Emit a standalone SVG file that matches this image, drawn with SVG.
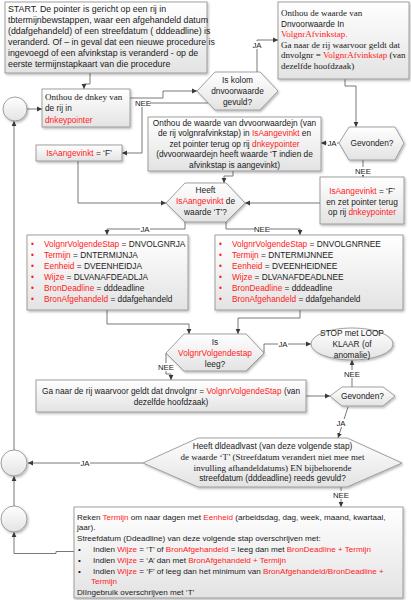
<svg xmlns="http://www.w3.org/2000/svg" width="411" height="600" viewBox="0 0 411 600">
<defs>
<linearGradient id="g" x1="0" y1="0" x2="0" y2="1"><stop offset="0" stop-color="#ffffff"/><stop offset="1" stop-color="#e3e3e3"/></linearGradient>
<filter id="sh" x="-10%" y="-10%" width="125%" height="130%"><feDropShadow dx="1.2" dy="1.5" stdDeviation="0.9" flood-color="#000" flood-opacity="0.28"/></filter>
<marker id="arr" markerWidth="6" markerHeight="6" refX="5" refY="3" orient="auto" markerUnits="userSpaceOnUse"><path d="M0,0.6 L5,3 L0,5.4 z" fill="#3a3a3a"/></marker>
<style>
.n{fill:url(#g);stroke:#8a8a8a;stroke-width:0.8;filter:url(#sh)}
.t{font-family:'Liberation Sans',Arial,sans-serif;font-size:8.3px;fill:#1a1a1a}
.s{font-family:'Liberation Serif','Times New Roman',serif;font-size:9px;fill:#1a1a1a}
.r{fill:#ff1a1a}
.m{text-anchor:middle}
.c{fill:none;stroke:#6a6a6a;stroke-width:0.9;marker-end:url(#arr)}
.l{font-family:'Liberation Sans',Arial,sans-serif;font-size:7.8px;fill:#1a1a1a;text-anchor:middle}
.lb{fill:#ffffff}
.st{font-size:8.8px}
</style>
</defs>
<rect width="411" height="600" fill="#ffffff"/>

<g id="connectors">
<path class="c" d="M90,73 V84 H84 V89"/>
<path class="c" d="M130,98 H163 V91 H197"/>
<path class="c" d="M257,72 V40 H278"/>
<path class="c" d="M208,103 H142 V153 H122"/>
<path class="c" d="M345,79 V86 H356 V127"/>
<path class="c" d="M339,143 H321"/>
<path class="c" d="M363,160 V177"/>
<path class="c" d="M233,171 V176 H224 V183"/>
<path class="c" d="M78,161 V203 H166"/>
<path class="c" d="M320,203 H245"/>
<path class="c" d="M185,222 V229 H107 V235"/>
<path class="c" d="M226,222 V229 H300 V235"/>
<path class="c" d="M107,310 V324 H189 V334"/>
<path class="c" d="M300,310 V318 H238 V334"/>
<path class="c" d="M264,353 V344 H311"/>
<path class="c" d="M166,353 V374 H171 V380"/>
<path class="c" d="M306,396 H330"/>
<path class="c" d="M352,387 V360"/>
<path class="c" d="M348,407 L338,438"/>
<path class="c" d="M143,463 H28"/>
<path class="c" d="M341,487 V507"/>
<path class="c" d="M74,551.5 H56 V553.5 H14 V532"/>
<path class="c" d="M14,506 V476"/>
<path class="c" d="M14,450 V121"/>
<path class="c" d="M27,109 H42"/>
<g id="labels">
<rect class="lb" x="252" y="41" width="10" height="8"/><text class="l" x="257" y="48">JA</text>
<rect class="lb" x="136" y="99" width="14" height="8"/><text class="l" x="143" y="106">NEE</text>
<rect class="lb" x="327" y="139" width="10" height="8"/><text class="l" x="332" y="146">JA</text>
<rect class="lb" x="356" y="167" width="14" height="8"/><text class="l" x="363" y="174">NEE</text>
<rect class="lb" x="140" y="225" width="10" height="8"/><text class="l" x="145" y="232">JA</text>
<rect class="lb" x="255" y="225" width="14" height="8"/><text class="l" x="262" y="232">NEE</text>
<rect class="lb" x="278" y="340" width="10" height="8"/><text class="l" x="283" y="347">JA</text>
<rect class="lb" x="159" y="363" width="14" height="8"/><text class="l" x="166" y="370">NEE</text>
<rect class="lb" x="345" y="370" width="14" height="8"/><text class="l" x="352" y="377">NEE</text>
<rect class="lb" x="336" y="419" width="10" height="8"/><text class="l" x="341" y="426">JA</text>
<rect class="lb" x="80" y="459" width="10" height="8"/><text class="l" x="85" y="466">JA</text>
<rect class="lb" x="334" y="491" width="14" height="8"/><text class="l" x="341" y="498">NEE</text>
</g>
</g>

<g id="start">
<rect class="n" x="5" y="2" width="202" height="71"/>
<text class="t st" x="8" y="12">START. De pointer is gericht op een rij in</text>
<text class="t st" x="8" y="23">tbtermijnbewstappen, waar een afgehandeld datum</text>
<text class="t st" x="8" y="34">(ddafgehandeld) of een streefdatum ( dddeadline) is</text>
<text class="t st" x="8" y="45">veranderd. Of – in geval dat een nieuwe procedure is</text>
<text class="t st" x="8" y="56">ingevoegd of een afvinkstap is veranderd - op de</text>
<text class="t st" x="8" y="67">eerste termijnstapkaart van die procedure</text>
</g>

<g id="circle1"><circle class="n" cx="15" cy="109" r="12"/></g>
<g id="circle2"><circle class="n" cx="14" cy="463" r="13"/></g>
<g id="circle3"><circle class="n" cx="14" cy="519" r="13"/></g>

<g id="onthou-dnkey">
<rect class="n" x="42" y="89" width="88" height="38"/>
<text class="s" x="45" y="100">Onthou de dnkey van</text>
<text class="t" x="45" y="111">de rij  in</text>
<text class="t r" x="45" y="123">dnkeypointer</text>
</g>

<g id="is-kolom">
<polygon class="n" points="197,91 215,72 260,72 278,91 260,110 215,110"/>
<text class="t m" x="237.5" y="83">Is kolom</text>
<text class="t m" x="237.5" y="94">dnvoorwaarde</text>
<text class="t m" x="237.5" y="104.5">gevuld?</text>
</g>

<g id="onthou-dnvoorwaarde">
<rect class="n" x="278" y="2" width="131" height="77"/>
<text class="s" x="281" y="16">Onthou de waarde van</text>
<text class="t" x="281" y="26.5">Dnvoorwaarde In</text>
<text class="s r" x="281" y="37">VolgnrAfvinkstap.</text>
<text class="s" x="281" y="47.5">Ga naar de rij waarvoor geldt dat</text>
<text class="s" x="281" y="58">dnvolgnr = <tspan class="r">VolgnrAfvinkstap</tspan> (van</text>
<text class="s" x="281" y="68.5">dezelfde hoofdzaak)</text>
</g>

<g id="gevonden1">
<polygon class="n" points="339,143 349,127 395,127 404,143 395,160 349,160"/>
<text class="t m" x="372" y="146">Gevonden?</text>
</g>

<g id="onthou-dvvoorwaardejn">
<rect class="n" x="148" y="117" width="173" height="54"/>
<text class="t m" x="234.5" y="125.5">Onthou de waarde van dvvoorwaardejn (van</text>
<text class="t m" x="234.5" y="136">de rij volgnrafvinkstap)  in <tspan class="r">IsAangevinkt</tspan>  en</text>
<text class="t m" x="234.5" y="146.7">zet pointer terug op rij <tspan class="r">dnkeypointer</tspan></text>
<text class="t m" x="234.5" y="157.3">(dvvoorwaardejn heeft waarde ‘T indien de</text>
<text class="t m" x="234.5" y="168">afvinkstap is aangevinkt)</text>
</g>

<g id="aangevinkt-f-left">
<rect class="n" x="36" y="145" width="86" height="16"/>
<text class="t m" x="79" y="156"><tspan class="r">IsAangevinkt</tspan> = ‘F’</text>
</g>

<g id="aangevinkt-f-right">
<rect class="n" x="320" y="177" width="84" height="47"/>
<text class="t m" x="362" y="194"><tspan class="r">IsAangevinkt</tspan> = ‘F’</text>
<text class="t m" x="362" y="204.5">en zet pointer terug</text>
<text class="t m" x="362" y="215">op rij <tspan class="r">dnkeypointer</tspan></text>
</g>

<g id="heeft-aangevinkt">
<polygon class="n" points="166,203 185,183 226,183 245,203 226,222 185,222"/>
<text class="t m" x="205.5" y="193">Heeft</text>
<text class="t m" x="205.5" y="204"><tspan class="r">IsAangevinkt</tspan> de</text>
<text class="t m" x="205.5" y="215">waarde ‘T’?</text>
</g>

<g id="bullets-ja">
<rect class="n" x="27" y="235" width="161" height="75"/>
<g class="t">
<text class="r" x="31" y="247">•</text><text x="44" y="247"><tspan class="r">VolgnrVolgendeStap</tspan>  = DNVOLGNRJA</text>
<text class="r" x="31" y="258">•</text><text x="44" y="258"><tspan class="r">Termijn</tspan> = DNTERMIJNJA</text>
<text class="r" x="31" y="269">•</text><text x="44" y="269"><tspan class="r">Eenheid</tspan> = DVEENHEIDJA</text>
<text class="r" x="31" y="280">•</text><text x="44" y="280"><tspan class="r">Wijze</tspan> = DLVANAFDEADLJA</text>
<text class="r" x="31" y="291">•</text><text x="44" y="291"><tspan class="r">BronDeadline</tspan> = dddeadline</text>
<text class="r" x="31" y="302">•</text><text x="44" y="302"><tspan class="r">BronAfgehandeld</tspan> = ddafgehandeld</text>
</g>
</g>

<g id="bullets-nee">
<rect class="n" x="215" y="235" width="188" height="75"/>
<g class="t">
<text class="r" x="219" y="247">•</text><text x="232" y="247"><tspan class="r">VolgnrVolgendeStap</tspan>  = DNVOLGNRNEE</text>
<text class="r" x="219" y="258">•</text><text x="232" y="258"><tspan class="r">Termijn</tspan> = DNTERMIJNNEE</text>
<text class="r" x="219" y="269">•</text><text x="232" y="269"><tspan class="r">Eenheid</tspan> =  DVEENHEIDNEE</text>
<text class="r" x="219" y="280">•</text><text x="232" y="280"><tspan class="r">Wijze</tspan> = DLVANAFDEADLNEE</text>
<text class="r" x="219" y="291">•</text><text x="232" y="291"><tspan class="r">BronDeadline</tspan> = dddeadline</text>
<text class="r" x="219" y="302">•</text><text x="232" y="302"><tspan class="r">BronAfgehandeld</tspan> = ddafgehandeld</text>
</g>
</g>

<g id="is-volgnr-leeg">
<polygon class="n" points="166,353 184,334 246,334 264,353 246,371 184,371"/>
<text class="t m" x="215" y="345">Is</text>
<text class="t m r" x="215" y="356">VolgnrVolgendestap</text>
<text class="t m" x="215" y="367">leeg?</text>
</g>

<g id="stop">
<ellipse class="n" cx="352" cy="344" rx="41" ry="16"/>
<text class="t m" x="352" y="336">STOP met LOOP</text>
<text class="t m" x="352" y="347">KLAAR (of</text>
<text class="t m" x="352" y="358">anomalie)</text>
</g>

<g id="ga-naar">
<rect class="n" x="36" y="380" width="270" height="32"/>
<text class="t m" x="171" y="394">Ga naar de rij waarvoor geldt dat dnvolgnr = <tspan class="r">VolgnrVolgendeStap</tspan> (van</text>
<text class="t m" x="171" y="405">dezelfde hoofdzaak)</text>
</g>

<g id="gevonden2">
<polygon class="n" points="330,396 342,387 383,387 395,396 383,406 342,406"/>
<text class="t m" x="362.5" y="399">Gevonden?</text>
</g>

<g id="heeft-dldeadlvast">
<polygon class="n" points="143,463 198,438 347,438 402,463 347,487 198,487"/>
<text class="t m" x="272.5" y="449">Heeft dldeadlvast (van deze volgende stap)</text>
<text class="s m" x="272.5" y="460">de waarde ‘T’ (Streefdatum verandert niet mee met</text>
<text class="s m" x="272.5" y="470.5">invulling afhandeldatums) EN  bijbehorende</text>
<text class="t m" x="272.5" y="481">streefdatum (dddeadline)  reeds gevuld?</text>
</g>

<g id="reken">
<rect class="n" x="74" y="507" width="329" height="91"/>
<g class="t" style="font-size:8.1px">
<text x="77" y="519.5">Reken <tspan class="r">Termijn</tspan> om naar dagen met <tspan class="r">Eenheid</tspan> (arbeidsdag, dag, week, maand, kwartaal,</text>
<text x="77" y="530.3">jaar).</text>
<text x="77" y="541.1">Streefdatum (Ddeadline) van deze volgende stap  overschrijven met:</text>
<text x="78" y="551.9">•</text><text x="93" y="551.9">Indien <tspan class="r">Wijze</tspan> = ‘T’ of <tspan class="r">BronAfgehandeld</tspan> = leeg dan met <tspan class="r">BronDeadline + Termijn</tspan></text>
<text x="78" y="562.7">•</text><text x="93" y="562.7">Indien <tspan class="r">Wijze</tspan> = ‘A’ dan met <tspan class="r">BronAfgehandeld + Termijn</tspan></text>
<text x="78" y="573.5">•</text><text x="93" y="573.5">Indien <tspan class="r">Wijze</tspan> = ‘F’ of leeg dan het minimum van <tspan class="r">BronAfgehandeld/BronDeadline +</tspan></text>
<text class="r" x="91" y="584.3">Termijn</text>
<text x="77" y="595.1">DlIngebruik overschrijven met ‘T’</text>
</g>
</g>
</svg>
